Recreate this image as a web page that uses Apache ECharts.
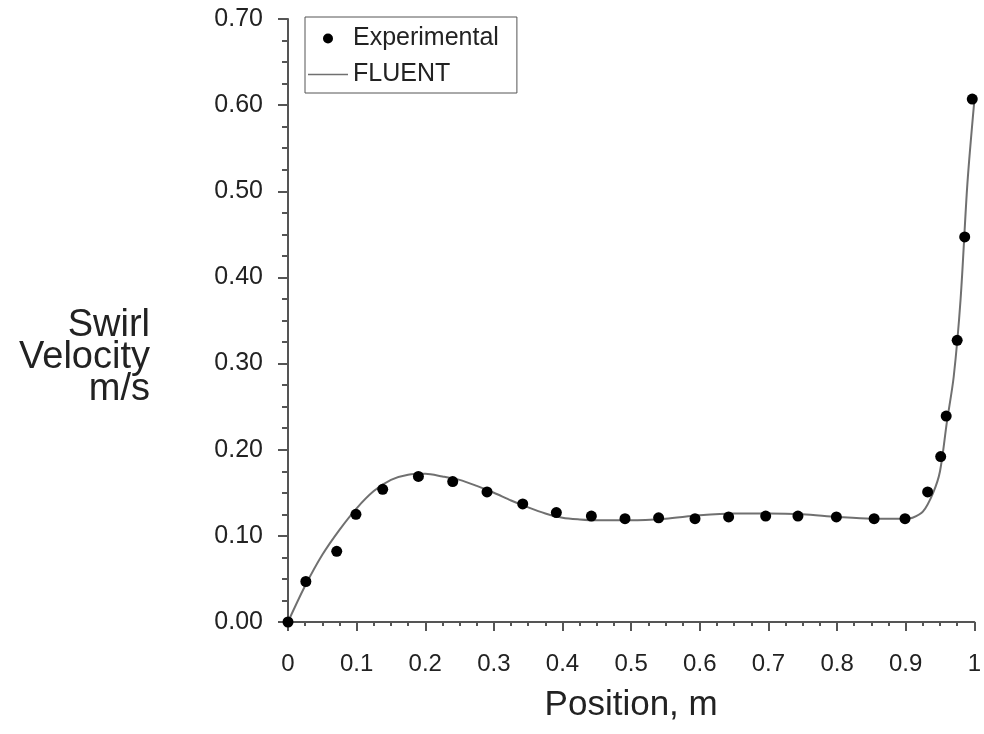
<!DOCTYPE html>
<html>
<head>
<meta charset="utf-8">
<title>Swirl Velocity</title>
<script src="https://cdn.jsdelivr.net/npm/echarts@6/dist/echarts.min.js"></script>
<style>
  html, body { margin: 0; padding: 0; background: #fff; }
  #chart { width: 984px; height: 734px; }
</style>
</head>
<body>
<div id="chart"></div>
<script>
// measured points (Experimental)
const expX = [0, 0.026, 0.071, 0.099, 0.138, 0.190, 0.240, 0.290, 0.342, 0.391, 0.442, 0.491, 0.540,
  0.593, 0.642, 0.696, 0.743, 0.799, 0.854, 0.899, 0.932, 0.951, 0.959, 0.975, 0.986, 0.997];
const expY = [0, 0.047, 0.082, 0.125, 0.154, 0.169, 0.163, 0.151, 0.137, 0.127, 0.123, 0.120, 0.121,
  0.120, 0.122, 0.123, 0.123, 0.122, 0.120, 0.120, 0.151, 0.192, 0.239, 0.327, 0.447, 0.607];

// simulation curve (FLUENT)
const fluentX = [0, 0.025, 0.05, 0.075, 0.1, 0.125, 0.15, 0.175, 0.2, 0.225, 0.25, 0.275, 0.3, 0.325,
  0.35, 0.375, 0.4, 0.425, 0.45, 0.5, 0.55, 0.6, 0.65, 0.7, 0.75, 0.8, 0.85, 0.9, 0.91, 0.925, 0.94,
  0.95, 0.96, 0.97, 0.98, 0.99, 1.0];
const fluentY = [0, 0.042, 0.078, 0.107, 0.132, 0.152, 0.165, 0.171, 0.172, 0.169, 0.165, 0.158, 0.150,
  0.141, 0.133, 0.126, 0.121, 0.119, 0.118, 0.118, 0.120, 0.124, 0.126, 0.126, 0.125, 0.122, 0.120,
  0.120, 0.121, 0.128, 0.150, 0.175, 0.232, 0.285, 0.375, 0.51, 0.605];

const xTickLabels = ['0', '0.1', '0.2', '0.3', '0.4', '0.5', '0.6', '0.7', '0.8', '0.9', '1'];
const yTitle = 'Swirl\nVelocity\nm/s';

const font = '"Liberation Sans", Arial, Helvetica, sans-serif';
const textColor = '#222';
const axisColor = '#555';
const lineColor = '#707070';

const chart = echarts.init(document.getElementById('chart'));

const option = {
  animation: false,
  backgroundColor: '#fff',
  textStyle: { fontFamily: font },
  grid: {
    left: 288,
    right: 7,
    top: 19,
    bottom: 112
  },
  // y axis title sits lower than the axis middle, so place it by hand
  graphic: [
    {
      type: 'text',
      right: 834,
      top: 307,
      style: {
        text: yTitle,
        font: '38px ' + font,
        fill: textColor,
        textAlign: 'right',
        lineHeight: 32
      }
    }
  ],
  legend: {
    orient: 'vertical',
    left: 305,
    top: 17,
    padding: [9, 18, 6, 3],
    itemWidth: 40,
    itemHeight: 10,
    itemGap: 11,
    itemTextGap: 5,
    borderColor: '#555',
    borderWidth: 1,
    textStyle: { fontSize: 25, color: textColor, fontFamily: font },
    data: [
      { name: 'Experimental', icon: 'circle' },
      // plain line for the curve, no marker
      { name: 'FLUENT', icon: 'path://M0,0H40V1.6H0Z', itemStyle: { color: lineColor } }
    ]
  },
  xAxis: {
    type: 'value',
    min: 0,
    max: 1,
    interval: 0.1,
    name: 'Position, m',
    nameLocation: 'middle',
    nameGap: 66,
    nameTextStyle: { fontSize: 35, color: textColor, fontFamily: font },
    axisLine: { onZero: false, lineStyle: { color: axisColor, width: 2 } },
    axisTick: { inside: false, length: 9, lineStyle: { color: axisColor, width: 2 } },
    minorTick: { show: true, splitNumber: 4, length: 4, lineStyle: { color: axisColor, width: 2 } },
    axisLabel: {
      margin: 30,
      fontSize: 24,
      color: textColor,
      fontFamily: font,
      formatter: function (v) {
        return xTickLabels[Math.round(v * 10)];
      }
    },
    splitLine: { show: false }
  },
  yAxis: {
    type: 'value',
    min: 0,
    max: 0.7,
    interval: 0.1,
    axisLine: { show: true, onZero: false, lineStyle: { color: axisColor, width: 2 } },
    axisTick: { show: true, inside: false, length: 10, lineStyle: { color: axisColor, width: 2 } },
    minorTick: { show: true, splitNumber: 4, length: 6, lineStyle: { color: axisColor, width: 2 } },
    axisLabel: {
      margin: 25,
      fontSize: 25,
      color: textColor,
      fontFamily: font,
      formatter: function (v) { return v.toFixed(2); }
    },
    splitLine: { show: false }
  },
  series: [
    {
      name: 'FLUENT',
      type: 'line',
      data: fluentX.map((x, i) => [x, fluentY[i]]),
      smooth: 0.3,
      symbol: 'none',
      showSymbol: false,
      z: 2,
      lineStyle: { color: lineColor, width: 2 },
      itemStyle: { color: lineColor }
    },
    {
      name: 'Experimental',
      type: 'scatter',
      data: expX.map((x, i) => [x, expY[i]]),
      symbol: 'circle',
      symbolSize: 11,
      z: 3,
      itemStyle: { color: '#000', opacity: 1 }
    }
  ]
};

chart.setOption(option);
window.addEventListener('resize', function () {
  chart.resize();
});
</script>
</body>
</html>
